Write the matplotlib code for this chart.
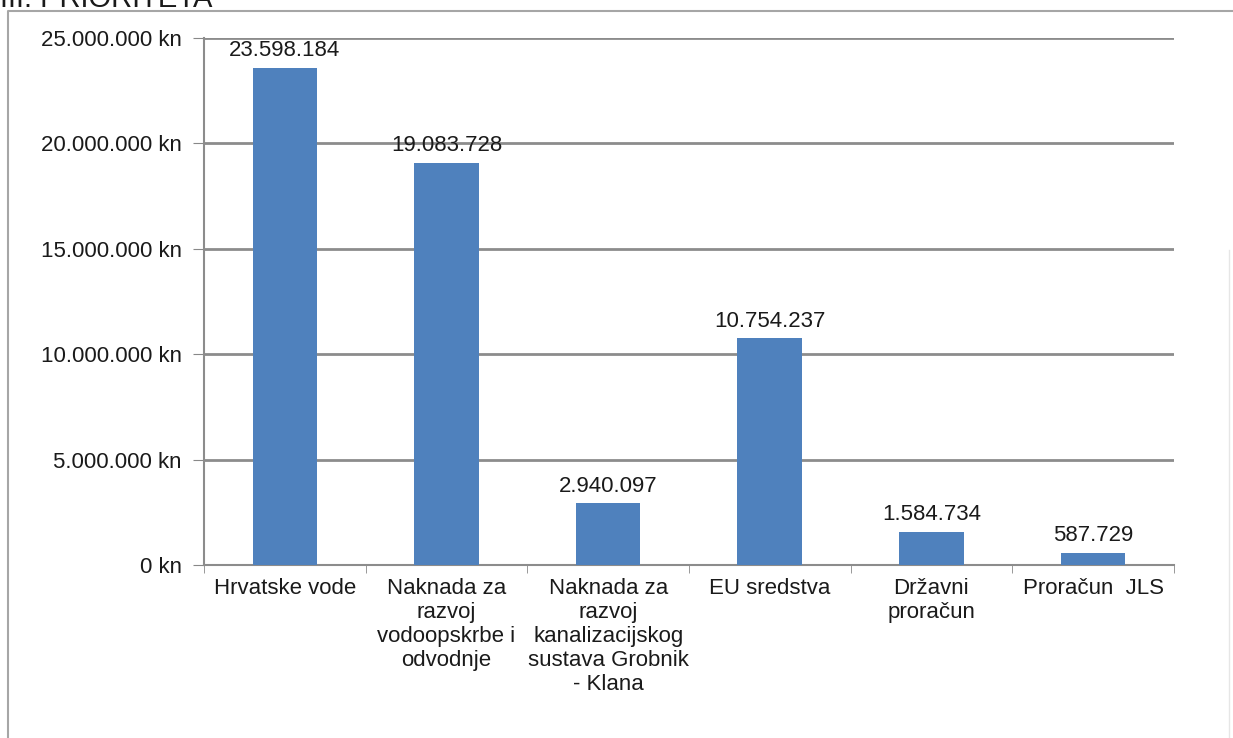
import matplotlib.pyplot as plt
import matplotlib.ticker as mticker
from matplotlib.lines import Line2D
import numpy as np

plt.rcParams['font.family'] = ['Liberation Sans', 'DejaVu Sans']

# data
categories = ['Hrvatske vode',
              'Naknada za\nrazvoj\nvodoopskrbe i\nodvodnje',
              'Naknada za\nrazvoj\nkanalizacijskog\nsustava Grobnik\n- Klana',
              'EU sredstva',
              'Državni\nproračun',
              'Proračun  JLS']
values = [23598184, 19083728, 2940097, 10754237, 1584734, 587729]
yticks = [0, 5000000, 10000000, 15000000, 20000000, 25000000]

def fmt_dots(v):
    return '{:,}'.format(int(v)).replace(',', '.')

fig = plt.figure(figsize=(12.33, 7.38), dpi=100)
ax = fig.add_axes([0.1655, 0.2344, 0.952 - 0.1655, 0.9485 - 0.2344])

x = np.arange(len(categories))
ax.bar(x, values, width=0.4, color='#4f81bd', zorder=3)
for xi, v in zip(x, values):
    ax.text(xi, v + 300000, fmt_dots(v), ha='center', va='bottom', fontsize=16, color='#1a1a1a')

ax.set_xlim(-0.5, len(categories) - 0.5)
ax.set_ylim(0, 25000000)
ax.set_yticks(yticks)
ax.yaxis.set_major_formatter(mticker.FuncFormatter(lambda v, p: fmt_dots(v) + ' kn'))
ax.set_xticks(x)
ax.set_xticklabels(categories, fontsize=16, linespacing=1.2, color='#1a1a1a', va='top')
ax.tick_params(axis='x', length=0, pad=9)
ax.set_xticks(np.arange(-0.5, len(categories), 1.0), minor=True)
ax.tick_params(axis='x', which='minor', length=6, color='#888888', direction='out')
ax.tick_params(axis='y', length=8, color='#888888', direction='out', labelsize=16, labelcolor='#1a1a1a', pad=8)

ax.grid(axis='y', color='#8c8c8c', linewidth=2, zorder=0)
for s in ['top', 'right']:
    ax.spines[s].set_visible(False)
for s in ['left', 'bottom']:
    ax.spines[s].set_color('#8c8c8c')
    ax.spines[s].set_linewidth(1.5)

# outer frame and heading (cut at the top as in the source)
fig.add_artist(Line2D([8 / 1233, 8 / 1233, 1.0], [0.0, 1 - 11 / 738, 1 - 11 / 738],
                      color='#a6a6a6', linewidth=1.5, transform=fig.transFigure))
fig.add_artist(Line2D([1229 / 1233, 1229 / 1233], [0.0, 1 - 250 / 738],
                      color='#e6e6e6', linewidth=1, transform=fig.transFigure))
fig.text(0.0, 1 - 7 / 738, 'III. PRIORITETA', fontsize=21, va='baseline', ha='left', color='#1a1a1a')

fig.savefig('out.png', dpi=100)
